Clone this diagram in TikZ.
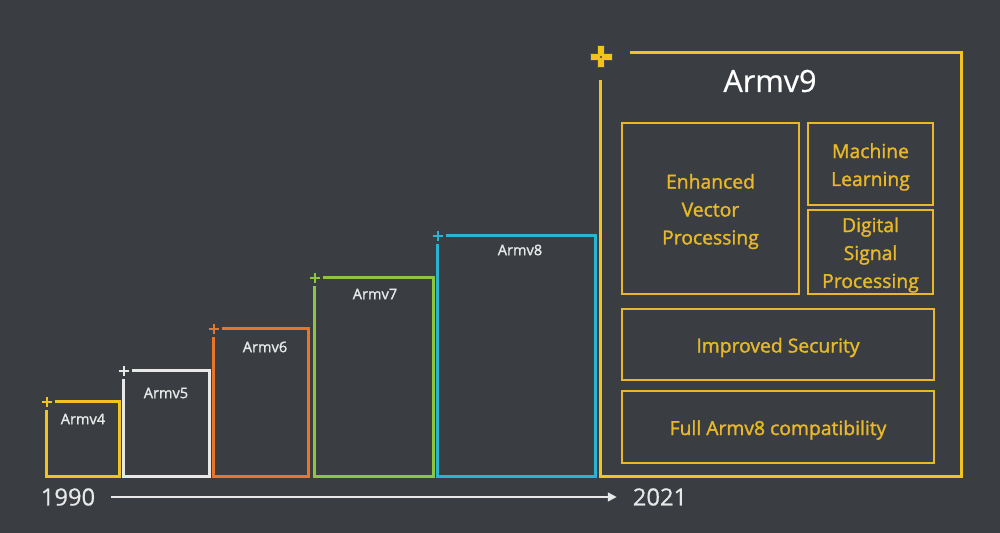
\documentclass[tikz,border=0pt]{standalone}
\usepackage{fontspec}
\setmainfont{Open Sans}
\newfontfamily\semib{Open Sans}[FakeBold=1.5]
\newfontfamily\medf{Open Sans}[FakeBold=0.6]
\usetikzlibrary{fit,arrows.meta}
\definecolor{bg}{HTML}{3A3E43}
\definecolor{armyellow}{HTML}{F2C21F}
\definecolor{armgold}{HTML}{E8B828}
\definecolor{armwhite}{HTML}{E8E8E8}
\definecolor{armorange}{HTML}{E8762A}
\definecolor{armgreen}{HTML}{8CC63E}
\definecolor{armcyan}{HTML}{2AB4D4}
\tikzset{
  area/.style={fit={#1}, inner sep=0pt, draw=none},
  outline/.style={line width=1.8pt, line join=miter},
  inbox/.style={draw=armgold, line width=1.1pt, inner sep=0pt},
  intext/.style={text=armgold, font=\semib\fontsize{11}{15.9}\selectfont, align=center, yshift=-0.06cm},
  verlbl/.style={text=armwhite, font=\semib\fontsize{8.3}{9}\selectfont},
  yearlbl/.style={text=armwhite, font=\medf\fontsize{13.5}{15}\selectfont},
}
\newcommand{\openbox}[4]{% node, colour, gap, plus size
  \draw[outline, draw=#2] ([xshift=#3]#1.north west) -- (#1.north east) -- (#1.south east) -- (#1.south west) -- ([yshift=-#3]#1.north west);
  \draw[draw=#2, line width=1.2pt] ([xshift=-#4]#1.north west) -- ([xshift=#4]#1.north west);
  \draw[draw=#2, line width=1.2pt] ([yshift=-#4]#1.north west) -- ([yshift=#4]#1.north west);
}
\begin{document}
\begin{tikzpicture}[x=0.02cm, y=-0.02cm]
\fill[bg] (0,0) rectangle (1000,533);
\useasboundingbox (0,0) rectangle (1000,533);

% generation boxes
\node[area={(47,402) (119,476)}] (v4) {};
\node[area={(124,371) (209,476)}] (v5) {};
\node[area={(214,329) (308,476)}] (v6) {};
\node[area={(315,278) (433,476)}] (v7) {};
\node[area={(438,236) (595,476)}] (v8) {};
\node[area={(601,53) (961,476)}] (v9) {};

\openbox{v4}{armyellow}{0.16cm}{0.1cm}
\openbox{v5}{armwhite}{0.16cm}{0.1cm}
\openbox{v6}{armorange}{0.16cm}{0.1cm}
\openbox{v7}{armgreen}{0.16cm}{0.1cm}
\openbox{v8}{armcyan}{0.16cm}{0.1cm}

% Armv9 outline with big plus
\draw[outline, draw=armyellow] ([xshift=0.58cm]v9.north west) -- (v9.north east) -- (v9.south east) -- (v9.south west) -- ([yshift=-0.54cm]v9.north west);
\coordinate (p9) at (601,57);
\draw[draw=black!70, line width=4.6pt] ([xshift=-0.23cm]p9) -- ([xshift=0.23cm]p9) ([yshift=-0.23cm]p9) -- ([yshift=0.23cm]p9);
\draw[draw=armyellow, line width=3.4pt] ([xshift=-0.21cm]p9) -- ([xshift=0.21cm]p9) ([yshift=-0.21cm]p9) -- ([yshift=0.21cm]p9);
\fill[black!75] (p9) circle (0.6pt);

% version labels
\node[verlbl] (l4) at (83,419) {Armv4};
\node[verlbl] (l5) at (166,393) {Armv5};
\node[verlbl] (l6) at (265,347) {Armv6};
\node[verlbl] (l7) at (375,294) {Armv7};
\node[verlbl] (l8) at (520,250) {Armv8};
\node[text=white, font=\medf\fontsize{17.4}{19}\selectfont] (l9) at (770,81) {Armv9};

% Armv9 features
\node[inbox, fit={(622,123) (799,294)}] (evp) {};
\node[intext] at (evp.center) {Enhanced\\Vector\\Processing};
\node[inbox, fit={(808,123) (933,205)}] (ml) {};
\node[intext] at (ml.center) {Machine\\Learning};
\node[inbox, fit={(808,210) (933,294)}] (dsp) {};
\node[intext] at (dsp.center) {Digital\\Signal\\Processing};
\node[inbox, fit={(622,309) (934,380)}] (sec) {};
\node[intext] at (sec.center) {Improved Security};
\node[inbox, fit={(622,391) (934,463)}] (compat) {};
\node[intext] at (compat.center) {Full Armv8 compatibility};

% timeline
\node[yearlbl] (y1) at (68,497) {1990};
\node[yearlbl] (y2) at (660,497) {2021};
\draw[armwhite, line width=1.1pt, -{Triangle[length=5pt,width=5pt]}] (y1.east) ++(0.2cm,0) -- ([xshift=-0.2cm]y2.west);
\end{tikzpicture}
\end{document}
